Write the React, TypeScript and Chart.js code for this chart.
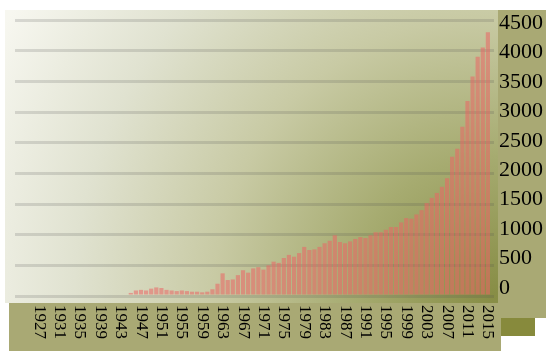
import React, { useEffect, useRef } from 'react';
import { Chart, registerables } from 'chart.js';

Chart.register(...registerables);

const YEARS = [
  1927, 1928, 1929, 1930, 1931, 1932, 1933, 1934, 1935, 1936,
  1937, 1938, 1939, 1940, 1941, 1942, 1943, 1944, 1945, 1946,
  1947, 1948, 1949, 1950, 1951, 1952, 1953, 1954, 1955, 1956,
  1957, 1958, 1959, 1960, 1961, 1962, 1963, 1964, 1965, 1966,
  1967, 1968, 1969, 1970, 1971, 1972, 1973, 1974, 1975, 1976,
  1977, 1978, 1979, 1980, 1981, 1982, 1983, 1984, 1985, 1986,
  1987, 1988, 1989, 1990, 1991, 1992, 1993, 1994, 1995, 1996,
  1997, 1998, 1999, 2000, 2001, 2002, 2003, 2004, 2005, 2006,
  2007, 2008, 2009, 2010, 2011, 2012, 2013, 2014, 2015,
];

const VALUES = [
  0, 0, 0, 0, 0, 0, 0, 0, 0, 0,
  0, 0, 0, 0, 0, 0, 0, 0, 50, 90,
  100, 90, 120, 140, 130, 100, 90, 80, 90, 80,
  70, 70, 60, 70, 110, 200, 370, 260, 270, 340,
  420, 380, 450, 470, 430, 500, 560, 540, 620, 670,
  640, 700, 800, 750, 760, 800, 860, 900, 990, 880,
  860, 890, 930, 960, 945, 990, 1040, 1040, 1080, 1125,
  1125, 1200, 1270, 1260, 1330, 1400, 1515, 1600, 1680, 1780,
  1920, 2270, 2400, 2760, 3180, 3580, 3900, 4050, 4300,
];

const X_TICK_LABELS = [
  '1927', '1931', '1935', '1939', '1943', '1947', '1951', '1955',
  '1959', '1963', '1967', '1971', '1975', '1979', '1983', '1987',
  '1991', '1995', '1999', '2003', '2007', '2011', '2015',
];

const Y_TICKS = [0, 500, 1000, 1500, 2000, 2500, 3000, 3500, 4000, 4500];

const bgPlugin = {
  id: 'bgBands',
  beforeDraw(chart: any) {
    const { ctx, chartArea: a, width, height } = chart;
    ctx.save();
    ctx.fillStyle = '#ffffff';
    ctx.fillRect(0, 0, width, height);
    const g = ctx.createRadialGradient(a.right, a.bottom, 0, a.right, a.bottom, 560);
    g.addColorStop(0, '#878d45');
    g.addColorStop(0.25, '#a6ab70');
    g.addColorStop(0.5, '#c8caa4');
    g.addColorStop(0.75, '#e0e2d0');
    g.addColorStop(1, '#f7f7f0');
    ctx.fillStyle = g;
    const bx = a.left - 10;
    const by = a.top - 10;
    ctx.fillRect(bx, by, a.right + 4 - bx, a.bottom + 7 - by);
    ctx.fillStyle = '#a9a974';
    ctx.fillRect(a.right + 4, by, width - a.right - 4, a.bottom + 22 - by);
    ctx.fillRect(a.left - 6, a.bottom + 7, a.right + 7 - (a.left - 6), height - a.bottom - 7);
    ctx.fillStyle = '#878a3c';
    ctx.fillRect(a.right + 7, a.bottom + 22, 34, 18);
    ctx.restore();
  },
  afterDraw(chart: any) {
    const { ctx, chartArea: a } = chart;
    const xs = chart.scales.x;
    ctx.save();
    ctx.font = '17px "Liberation Serif", "Times New Roman", serif';
    ctx.fillStyle = '#000000';
    ctx.textAlign = 'left';
    ctx.textBaseline = 'middle';
    X_TICK_LABELS.forEach((lbl) => {
      const x = xs.getPixelForValue(Number(lbl));
      ctx.save();
      ctx.translate(x, a.bottom + 9);
      ctx.rotate(Math.PI / 2);
      ctx.fillText(lbl, 0, 0);
      ctx.restore();
    });
    ctx.restore();
  },
};

export default function App() {
  const ref = useRef<HTMLCanvasElement | null>(null);

  useEffect(() => {
    document.body.style.margin = '0';
    const canvas = ref.current;
    if (!canvas) return;
    const chart = new Chart(canvas, {
      type: 'bar',
      data: {
        datasets: [
          {
            data: YEARS.map((y, i) => ({ x: y, y: VALUES[i] })),
            backgroundColor: 'rgba(235,100,100,0.55)',
            borderWidth: 0,
            barPercentage: 1,
            categoryPercentage: 0.82,
            xAxisID: 'x',
            yAxisID: 'y',
          },
        ],
      },
      options: {
        responsive: false,
        animation: false,
        devicePixelRatio: 1,
        layout: { padding: { top: 20, left: 15, right: 0, bottom: 0 } },
        plugins: {
          legend: { display: false },
          tooltip: { enabled: false },
          title: { display: false },
        },
        scales: {
          x: {
            type: 'linear',
            offset: false,
            min: 1922.3,
            max: 2016.2,
            grid: { display: false, offset: false },
            border: { display: false },
            ticks: { display: false },
            afterFit: (s: any) => {
              s.height = 55;
            },
          },
          y: {
            type: 'linear',
            position: 'right',
            min: 0,
            max: 4500,
            ticks: { display: false, stepSize: 500 },
            grid: { color: 'rgba(80,80,80,0.18)', lineWidth: 3, drawTicks: false },
            border: { display: false },
            afterFit: (s: any) => {
              s.width = 0;
            },
          },
          y2: {
            type: 'linear',
            position: 'right',
            min: -136,
            max: 4551,
            grid: { display: false, drawTicks: false },
            border: { display: false },
            afterBuildTicks: (s: any) => {
              s.ticks = Y_TICKS.map((v) => ({ value: v }));
            },
            ticks: {
              padding: 5,
              color: '#000000',
              font: { family: '"Liberation Serif", "Times New Roman", serif', size: 22 },
              callback: (v: any) => String(v),
            },
            afterFit: (s: any) => {
              s.width = 52;
            },
          },
        },
      } as any,
      plugins: [bgPlugin],
    });
    return () => chart.destroy();
  }, []);

  return (
    <div style={{ width: 546, height: 351 }}>
      <canvas ref={ref} width={546} height={351} style={{ display: 'block' }} />
    </div>
  );
}
